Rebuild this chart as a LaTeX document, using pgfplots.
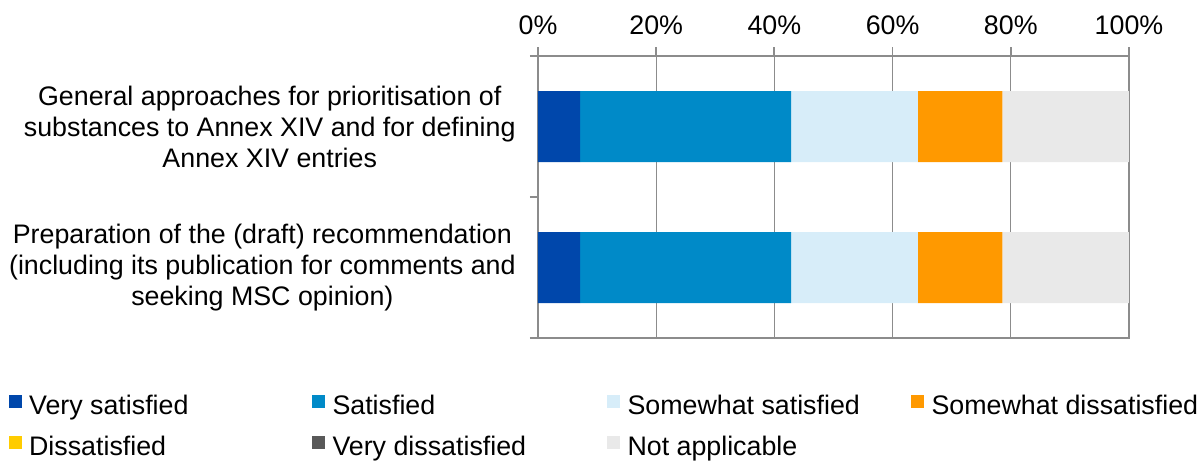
\documentclass[border=0pt]{standalone}
\usepackage{pgfplots}
\usepackage{pgfplotstable}
\pgfplotsset{compat=1.18}
\usepackage{fontspec}
\setmainfont{Liberation Sans}

\definecolor{vsat}{HTML}{0047AB}
\definecolor{sat}{HTML}{008AC8}
\definecolor{swsat}{HTML}{D7EDF9}
\definecolor{swdis}{HTML}{FF9900}
\definecolor{dis}{HTML}{FFCC00}
\definecolor{vdis}{HTML}{595959}
\definecolor{napp}{HTML}{E9E9E9}
\definecolor{axgray}{HTML}{8C8C8C}

\pgfplotsset{sqlegend/.style={legend image code/.code={\fill[##1] (0pt,0pt) rectangle (6.5pt,6.5pt);}}}

% shares of respondents (%), one row per question
\pgfplotstableread{
cat vs    s     sws   swd   d  vd na
0   7.14  35.71 21.43 14.29 0  0  21.43
1   7.14  35.71 21.43 14.29 0  0  21.43
}\answers

\newcommand{\lbox}[2]{\makebox[#1][l]{#2}}

\begin{document}
\begin{tikzpicture}
\begin{axis}[
    scale only axis,
    width=295.5pt, height=141pt,
    xbar stacked, bar width=35.5pt,
    xmin=0, xmax=100,
    ymin=-0.5, ymax=1.5, y dir=reverse,
    xtick={0,20,40,60,80,100},
    xticklabel={\pgfmathprintnumber{\tick}\%},
    xticklabel pos=right, xtick pos=right,
    ytick={0,1}, ytick pos=left,
    yticklabels={{General approaches for prioritisation of\\substances to Annex XIV and for defining\\Annex XIV entries},
                 {Preparation of the (draft) recommendation\\(including its publication for comments and\\seeking MSC opinion)}},
    minor ytick={-0.5,0.5,1.5},
    major y tick style={draw=none},
    tick align=outside,
    major tick length=4.5pt, minor tick length=4pt,
    xmajorgrids,
    grid style={color=axgray, line width=0.6pt},
    axis line style={color=axgray, line width=0.9pt},
    tick style={color=axgray, line width=0.9pt},
    /pgf/number format/assume math mode=true,
    tick label style={font=\fontsize{13.4}{15.5}\selectfont},
    xticklabel style={yshift=2.5pt},
    yticklabel style={align=center, inner xsep=0pt, xshift=-6.5pt},
    legend columns=4,
    legend style={draw=none, fill=none, inner sep=0pt, outer sep=0pt,
        at={(axis description cs:-0.8959,-0.2021)}, anchor=north west,
        font=\fontsize{13.4}{15.5}\selectfont,
        column sep=0pt, row sep=7.5pt,
        nodes={inner xsep=3.8pt, inner ysep=0pt, text height=9.5pt, text depth=3pt}},
]
\addplot[fill=vsat, draw=none, sqlegend] table[x=vs, y=cat] {\answers};
\addplot[fill=sat, draw=none, sqlegend] table[x=s, y=cat] {\answers};
\addplot[fill=swsat, draw=none, sqlegend] table[x=sws, y=cat] {\answers};
\addplot[fill=swdis, draw=none, sqlegend] table[x=swd, y=cat] {\answers};
\addplot[fill=dis, draw=none, sqlegend] table[x=d, y=cat] {\answers};
\addplot[fill=vdis, draw=none, sqlegend] table[x=vd, y=cat] {\answers};
\addplot[fill=napp, draw=none, sqlegend] table[x=na, y=cat] {\answers};
\legend{\lbox{137.6pt}{Very satisfied}, \lbox{133.4pt}{Satisfied}, \lbox{137.9pt}{Somewhat satisfied}, \lbox{120pt}{Somewhat dissatisfied},
        \lbox{137.6pt}{Dissatisfied}, \lbox{133.4pt}{Very dissatisfied}, \lbox{137.9pt}{Not applicable}}
\end{axis}
\pgfresetboundingbox
\path (-269pt,-62pt) rectangle (330.5pt,169pt);
\end{tikzpicture}
\end{document}
